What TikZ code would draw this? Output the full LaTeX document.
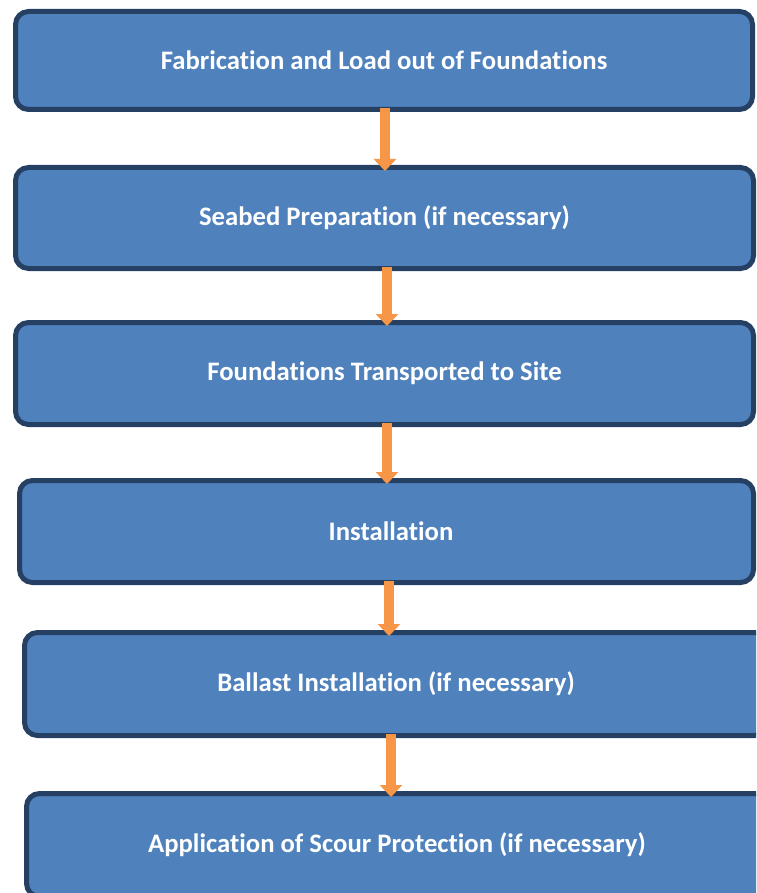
\documentclass[tikz,border=0pt]{standalone}
\usepackage{fontspec}
\setmainfont[Ligatures=NoCommon]{Carlito}
\usetikzlibrary{arrows.meta}
\definecolor{boxfill}{RGB}{79,129,189}
\definecolor{boxline}{RGB}{38,64,100}
\definecolor{arrowcol}{RGB}{247,150,70}
\tikzset{
  stepbox/.style={draw=boxline, fill=boxfill, line width=5pt, rounded corners=13pt,
    text=white, font=\bfseries\fontsize{26.7}{30}\selectfont, inner sep=0pt},
  flowarrow/.style={draw=arrowcol, line width=10pt,
    -{Triangle[width=22pt,length=12pt]}, shorten <=-4pt, shorten >=-6pt}
}
\begin{document}
\begin{tikzpicture}[x=1pt,y=-1pt]
\useasboundingbox (0,0) rectangle (756,893);
\clip (0,0) rectangle (756,893);
\node[stepbox, minimum width=737pt, minimum height=98pt] (b1) at (384,60.5) {Fabrication and Load out of Foundations};
\node[stepbox, minimum width=738pt, minimum height=101pt] (b2) at (384.5,218) {Seabed Preparation (if necessary)};
\node[stepbox, minimum width=738pt, minimum height=102pt] (b3) at (384.5,373.5) {Foundations Transported to Site};
\node[stepbox, minimum width=734pt, minimum height=102pt] (b4) at (386.5,531.5) {\hspace*{9pt}Installation};
\node[stepbox, minimum width=743pt, minimum height=103pt] (b5) at (396,684) {Ballast Installation (if necessary)};
\node[stepbox, minimum width=741pt, minimum height=103pt] (b6) at (397,845) {Application of Scour Protection (if necessary)};
\draw[flowarrow] (b1.south -| 385,0) -- (b2.north -| 385,0);
\draw[flowarrow] (b2.south -| 387,0) -- (b3.north -| 387,0);
\draw[flowarrow] (b3.south -| 387,0) -- (b4.north -| 387,0);
\draw[flowarrow] (b4.south -| 389,0) -- (b5.north -| 389,0);
\draw[flowarrow] (b5.south -| 391,0) -- (b6.north -| 391,0);
\end{tikzpicture}
\end{document}
